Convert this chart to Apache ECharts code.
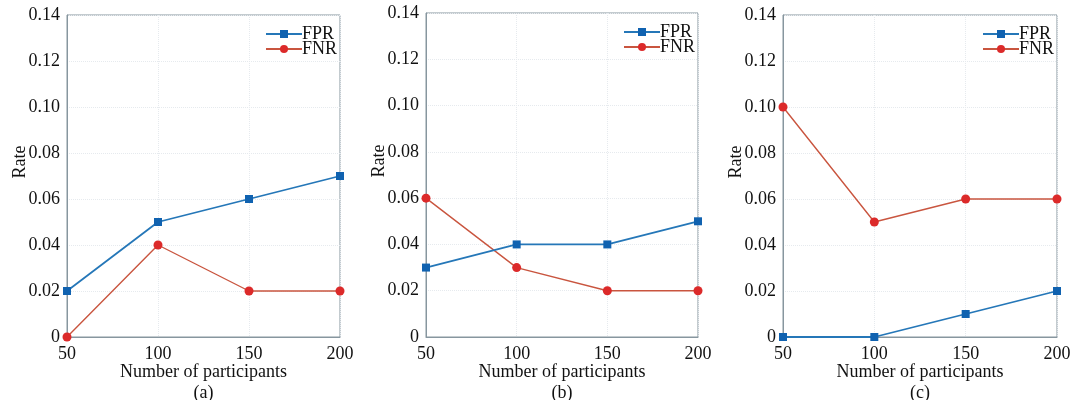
<!DOCTYPE html>
<html><head><meta charset="utf-8">
<script src="https://cdn.jsdelivr.net/npm/echarts@6/dist/echarts.min.js"></script>
<style>html,body{margin:0;padding:0;background:#fff}#c{width:1079px;height:400px}</style>
</head><body><div id="c"></div>
<script>
const participants = [50, 100, 150, 200];
const fprA = [0.02, 0.05, 0.06, 0.07];
const fnrA = [0.00, 0.04, 0.02, 0.02];
const fprB = [0.03, 0.04, 0.04, 0.05];
const fnrB = [0.06, 0.03, 0.02, 0.02];
const fprC = [0.00, 0.00, 0.01, 0.02];
const fnrC = [0.10, 0.05, 0.06, 0.06];
const panelLabels = ['(a)', '(b)', '(c)'];
const yTicks = [0, 0.02, 0.04, 0.06, 0.08, 0.10, 0.12, 0.14];

const FONT = 'Liberation Serif, Times New Roman, serif';
const FS = 18;
const BLUE = '#2577b8', BLUE_M = '#1062b0';
const RED = '#c9553f', RED_M = '#dc2a2a';
const grids = [
  {left: 67, top: 15, width: 273, height: 322},
  {left: 426, top: 13, width: 272, height: 324},
  {left: 783, top: 15, width: 274, height: 322}
];
const data = [[fprA, fnrA], [fprB, fnrB], [fprC, fnrC]];
const chart = echarts.init(document.getElementById('c'), null, {renderer: 'canvas'});
const opt = {
  animation: false,
  textStyle: {fontFamily: FONT},
  grid: grids.map(g => Object.assign({show: true, borderColor: '#87969f', borderWidth: 1}, g)),
  xAxis: grids.map((g, i) => ({
    gridIndex: i, type: 'value', min: 50, max: 200, interval: 50,
    name: 'Number of participants', nameLocation: 'middle', nameGap: 26, nameMoveOverlap: false,
    nameTextStyle: {fontFamily: FONT, fontSize: FS, color: '#111'},
    axisLine: {show: true, lineStyle: {color: '#87969f'}},
    axisTick: {show: false},
    axisLabel: {fontFamily: FONT, fontSize: FS, color: '#111', margin: 8},
    splitLine: {show: true, lineStyle: {color: '#e6eaee', type: 'dotted'}}
  })),
  yAxis: grids.map((g, i) => ({
    gridIndex: i, type: 'value', min: 0, max: 0.14, interval: 0.02,
    name: 'Rate', nameLocation: 'middle', nameGap: 38, nameRotate: 90, nameMoveOverlap: false,
    nameTextStyle: {fontFamily: FONT, fontSize: FS, color: '#111', padding: [0, 0, 0, 28]},
    axisLine: {show: true, lineStyle: {color: '#87969f'}},
    axisTick: {show: false},
    axisLabel: {fontFamily: FONT, fontSize: FS, color: '#111', margin: 7,
      formatter: v => { const t = yTicks.find(x => Math.abs(x - v) < 1e-9); return t === 0 ? '0' : (t !== undefined ? t.toFixed(2) : ''); }},
    splitLine: {show: true, lineStyle: {color: '#e6eaee', type: 'dotted'}}
  })),
  legend: grids.map((g, i) => ({
    data: ['FPR', 'FNR'], orient: 'vertical', left: g.left + g.width - 75, top: g.top + 10,
    itemWidth: 36, itemHeight: 10, itemGap: -3, selectedMode: false, padding: 0,
    textStyle: {fontFamily: FONT, fontSize: FS, color: '#111', padding: [0, 0, 0, -5]}
  })),
  title: grids.map((g, i) => ({
    text: panelLabels[i], left: g.left + g.width / 2, top: 384, textAlign: 'center', padding: 0,
    textStyle: {fontFamily: FONT, fontSize: FS, fontWeight: 'normal', color: '#111'}
  })),
  series: []
};
data.forEach((pair, i) => {
  opt.series.push({
    name: 'FPR', type: 'line', xAxisIndex: i, yAxisIndex: i,
    data: participants.map((p, k) => [p, pair[0][k]]),
    symbol: 'rect', symbolSize: 8, lineStyle: {color: BLUE, width: 1.8},
    itemStyle: {color: BLUE_M}, color: BLUE_M, z: 3
  });
  opt.series.push({
    name: 'FNR', type: 'line', xAxisIndex: i, yAxisIndex: i,
    data: participants.map((p, k) => [p, pair[1][k]]),
    symbol: 'circle', symbolSize: 9, lineStyle: {color: RED, width: 1.4},
    itemStyle: {color: RED_M}, color: RED_M, z: 2
  });
});
chart.setOption(opt);
</script></body></html>
